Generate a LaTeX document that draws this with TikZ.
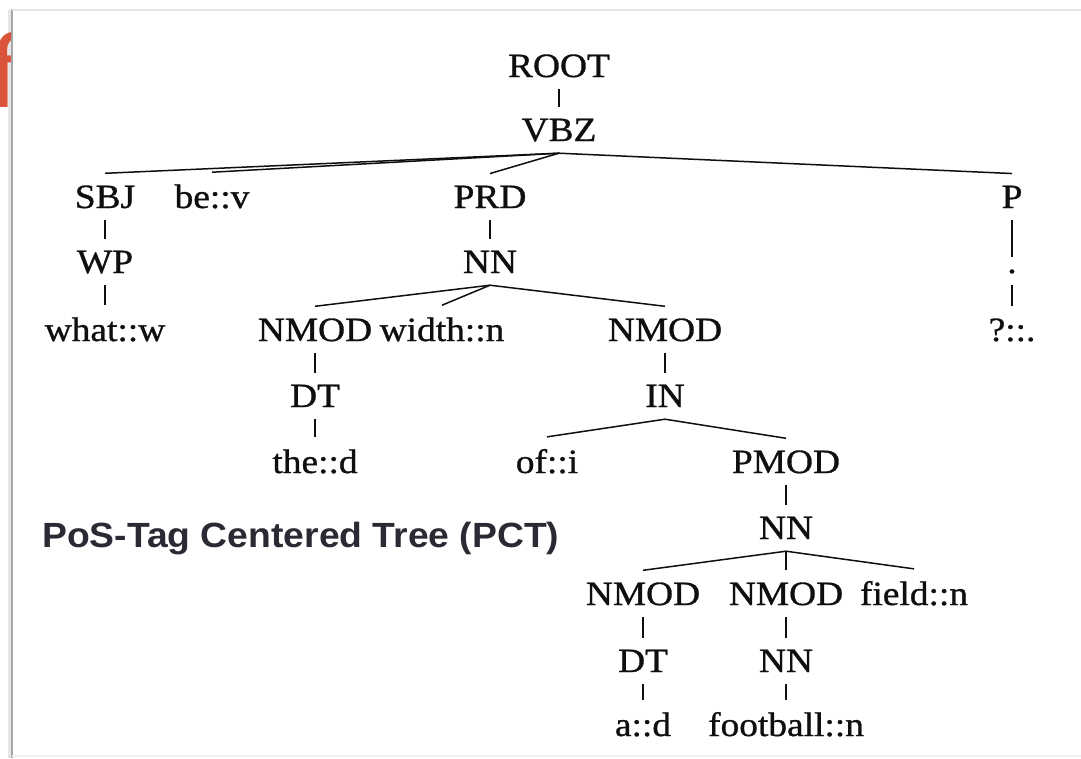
\documentclass[tikz,border=0pt]{standalone}
\usepackage{fontspec}
\setmainfont{Liberation Serif}[FakeStretch=1.1, FakeBold=0.9]
\newfontfamily\captionfont{Liberation Sans}[FakeStretch=1.065]
\newfontfamily\headfont{Carlito}
\definecolor{slidered}{RGB}{217,84,58}
\definecolor{captiongray}{RGB}{42,42,52}
\definecolor{inkblack}{RGB}{15,15,15}

\tikzset{
  tag/.style={anchor=base, inner xsep=0pt, inner ysep=12pt, text depth=0pt,
    text=inkblack, font=\fontsize{34}{34}\selectfont},
  branch/.style={line width=1.5pt, draw=inkblack},
}

\begin{document}
\begin{tikzpicture}[x=1pt, y={(0pt,-1pt)}]
\useasboundingbox (0,0) rectangle (1081,758);
\fill[white] (0,0) rectangle (1081,758);

% soft shadow along the card's left edge
\fill[black!10] (8,10) rectangle (11,758);

% slide title letter peeking out behind the card
\node[anchor=base west, inner sep=0pt, text=slidered,
      font=\headfont\fontsize{110}{110}\selectfont] (titleletter) at (-11,107) {f};

% white card with its borders
\fill[white] (12,10) rectangle (1081,755);
\draw[line width=2.5pt, black!35] (12,9) -- (12,758);
\draw[line width=1.5pt, black!10] (12,10) -- (1081,10);
\draw[line width=1.2pt, black!6] (12,756) -- (1081,756);

% tree nodes (positions at text baselines)
\node[tag] (root)  at (559,77)  {ROOT};
\node[tag] (vbz)   at (559,141) {VBZ};
\node[tag] (sbj)   at (105,208) {SBJ};
\node[tag] (bev)   at (212,208) {be::v};
\node[tag] (prd)   at (490,208) {PRD};
\node[tag] (p)     at (1012,208) {P};
\node[tag] (wp)    at (105,273) {WP};
\node[tag] (nna)   at (490,273) {NN};
\node[tag] (dot)   at (1012,273) {.};
\node[tag] (what)  at (105,341) {what::w};
\node[tag] (nmoda) at (315,341) {NMOD};
\node[tag] (width) at (442,341) {width::n};
\node[tag] (nmodb) at (665,341) {NMOD};
\node[tag] (qmark) at (1012,341) {?::.};
\node[tag] (dta)   at (315,407) {DT};
\node[tag] (in)    at (665,407) {IN};
\node[tag] (the)   at (315,473) {the::d};
\node[tag] (of)    at (547,473) {of::i};
\node[tag] (pmod)  at (786,473) {PMOD};
\node[tag] (nnb)   at (786,539) {NN};
\node[tag] (nmodc) at (643,605) {NMOD};
\node[tag] (nmodd) at (786,605) {NMOD};
\node[tag] (field) at (914,605) {field::n};
\node[tag] (dtb)   at (643,672) {DT};
\node[tag] (nnc)   at (786,672) {NN};
\node[tag] (ad)    at (643,736) {a::d};
\node[tag] (foot)  at (786,736) {football::n};

% branches
\draw[branch] (root.south) -- (vbz.north);
\foreach \c in {sbj,bev,prd,p} \draw[branch] (vbz.south) -- (\c.north);
\draw[branch] (sbj.south) -- (wp.north);
\draw[branch] (wp.south) -- (what.north);
\draw[branch] (prd.south) -- (nna.north);
\foreach \c in {nmoda,width,nmodb} \draw[branch] (nna.south) -- (\c.north);
\draw[branch] (p.south) -- (dot.north);
\draw[branch] (dot.south) -- (qmark.north);
\draw[branch] (nmoda.south) -- (dta.north);
\draw[branch] (dta.south) -- (the.north);
\draw[branch] (nmodb.south) -- (in.north);
\foreach \c in {of,pmod} \draw[branch] (in.south) -- (\c.north);
\draw[branch] (pmod.south) -- (nnb.north);
\foreach \c in {nmodc,nmodd,field} \draw[branch] (nnb.south) -- (\c.north);
\draw[branch] (nmodc.south) -- (dtb.north);
\draw[branch] (dtb.south) -- (ad.north);
\draw[branch] (nmodd.south) -- (nnc.north);
\draw[branch] (nnc.south) -- (foot.north);

% caption
\node[anchor=base west, inner sep=0pt, text=captiongray,
      font=\captionfont\bfseries\fontsize{35}{35}\selectfont] (caption)
      at (42,547) {PoS-Tag Centered Tree (PCT)};
\end{tikzpicture}
\end{document}
